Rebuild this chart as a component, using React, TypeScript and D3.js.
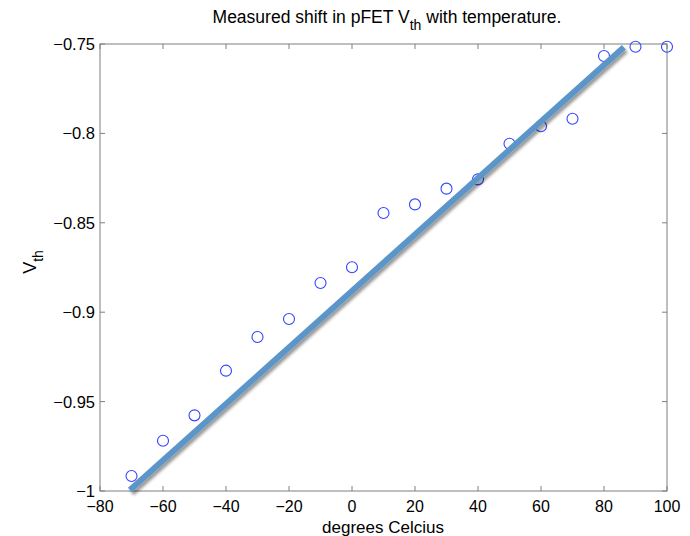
import React from "react";
import * as d3 from "d3";

const temps = [-70, -60, -50, -40, -30, -20, -10, 0, 10, 20, 30, 40, 50, 60, 70, 80, 90, 100];
const vth = [-0.9916, -0.9719, -0.9577, -0.9327, -0.9139, -0.9038, -0.8837, -0.8749, -0.8445, -0.8397, -0.8309, -0.8257, -0.8058, -0.796, -0.7918, -0.7567, -0.7515, -0.7515];
const fitX = [-70.5, 86.3];
const fitY = [-0.9995, -0.7518];
const xTicks = [-80, -60, -40, -20, 0, 20, 40, 60, 80, 100];
const yTicks = [-1, -0.95, -0.9, -0.85, -0.8, -0.75];
const yTickLabels = ["\u22121", "\u22120.95", "\u22120.9", "\u22120.85", "\u22120.8", "\u22120.75"];
const xTickLabels = ["\u221280", "\u221260", "\u221240", "\u221220", "0", "20", "40", "60", "80", "100"];

const W = 690;
const H = 536;
const left = 100;
const right = 667;
const top = 44;
const bottom = 491;
const FONT = "'Liberation Sans', Arial, Helvetica, sans-serif";
const AX = "#7f7f7f";

export default function App() {
  const x = d3.scaleLinear().domain([-80, 100]).range([left, right]);
  const y = d3.scaleLinear().domain([-1, -0.75]).range([bottom, top]);
  const line = d3
    .line<number>()
    .x((_, i) => x(fitX[i]))
    .y((d) => y(d));
  const tick = 5;
  return (
    <div style={{ position: "fixed", left: 0, top: 0, width: W, height: H, background: "#fff" }}>
      <svg width={W} height={H} style={{ display: "block" }} fontFamily={FONT}>
        <defs>
          <filter id="shadow" x="-20%" y="-20%" width="140%" height="140%">
            <feDropShadow dx="2" dy="3" stdDeviation="1.6" floodColor="#000" floodOpacity="0.4" />
          </filter>
        </defs>
        <rect x={0} y={0} width={W} height={H} fill="#fff" />
        {xTicks.map((t, i) => (
          <g key={"xt" + i}>
            <line x1={x(t)} x2={x(t)} y1={bottom} y2={bottom - tick} stroke={AX} />
            <line x1={x(t)} x2={x(t)} y1={top} y2={top + tick} stroke={AX} />
            <text x={x(t)} y={512} fontSize={16} textAnchor="middle" fill="#000">
              {xTickLabels[i]}
            </text>
          </g>
        ))}
        {yTicks.map((t, i) => (
          <g key={"yt" + i}>
            <line x1={left} x2={left + tick} y1={y(t)} y2={y(t)} stroke={AX} />
            <line x1={right} x2={right - tick} y1={y(t)} y2={y(t)} stroke={AX} />
            <text x={95} y={y(t) + 6} fontSize={16.5} textAnchor="end" fill="#000">
              {yTickLabels[i]}
            </text>
          </g>
        ))}
        <rect x={left} y={top} width={right - left} height={bottom - top} fill="none" stroke={AX} strokeWidth={1} />
        {temps.map((t, i) => (
          <circle key={"p" + i} cx={x(t)} cy={y(vth[i])} r={5.5} fill="none" stroke="#3344ff" strokeWidth={1.1} />
        ))}
        <path d={line(fitY) || ""} stroke="#5b96c9" strokeWidth={6} fill="none" filter="url(#shadow)" />
        <text x={387} y={23} fontSize={17.5} textAnchor="middle" fill="#000">
          Measured shift in pFET V
          <tspan fontSize={14} dy={7}>th</tspan>
          <tspan dy={-7}> with temperature.</tspan>
        </text>
        <text x={383} y={533} fontSize={17} textAnchor="middle" fill="#000">
          degrees Celcius
        </text>
        <text transform="translate(36,262) rotate(-90)" fontSize={18} textAnchor="middle" fill="#000">
          V<tspan fontSize={14} dy={7}>th</tspan>
        </text>
      </svg>
    </div>
  );
}
